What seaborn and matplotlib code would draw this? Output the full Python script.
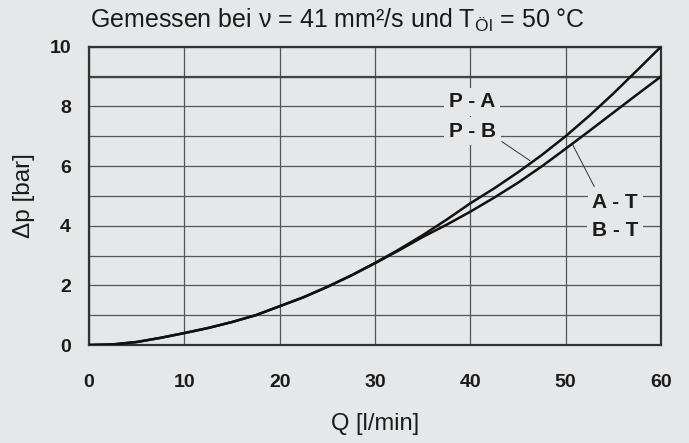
import matplotlib
matplotlib.use("Agg")
import matplotlib.pyplot as plt
from matplotlib import font_manager
import seaborn as sns
import pandas as pd

# ---- data ----
flow = [0, 2.5, 5, 7.5, 10, 12.5, 15, 17.5, 20, 22.5, 25, 27.5, 30,
        32.5, 35, 37.5, 40, 42.5, 45, 47.5, 50, 52.5, 55, 57.5, 60]
dp_upper = [0, 0.02, 0.1, 0.24, 0.4, 0.57, 0.77, 1.0, 1.3, 1.6, 1.95, 2.33, 2.75,
            3.2, 3.68, 4.2, 4.75, 5.25, 5.79, 6.37, 7.0, 7.69, 8.43, 9.21, 10.0]
dp_lower = [0, 0.02, 0.1, 0.24, 0.4, 0.57, 0.77, 1.0, 1.3, 1.6, 1.95, 2.33, 2.74,
            3.17, 3.62, 4.03, 4.47, 4.94, 5.44, 5.99, 6.58, 7.18, 7.79, 8.4, 9.0]
curve_names = ["P - A / P - B", "A - T / B - T"]

x_ticks = [0, 10, 20, 30, 40, 50, 60]
y_ticks = [0, 2, 4, 6, 8, 10]
y_minor = [1, 3, 5, 7, 9]

labels_upper = ["P - A", "P - B"]
labels_upper_pos = [(40.2, 8.15), (40.2, 7.17)]
labels_lower = ["A - T", "B - T"]
labels_lower_pos = [(55.2, 4.78), (55.2, 3.83)]
leader_upper = [(43.3, 6.82), (46.25, 6.18)]
leader_lower = [(53.0, 5.31), (50.74, 6.71)]

title_txt = "Gemessen bei ν = 41 mm²/s und T$_{\\mathrm{Öl}}$ = 50 °C"
xlabel_txt = "Q [l/min]"
ylabel_txt = "Δp [bar]"

# ---- style ----
BG = "#e6e7e8"
sns.set_theme(style="white")
names = {f.name for f in font_manager.fontManager.ttflist}
narrow = "Liberation Sans Narrow" if "Liberation Sans Narrow" in names else "Liberation Sans"
plt.rcParams["font.family"] = ["Liberation Sans", "DejaVu Sans"]
plt.rcParams["mathtext.fontset"] = "custom"
plt.rcParams["mathtext.rm"] = narrow
plt.rcParams["mathtext.it"] = narrow
plt.rcParams["mathtext.bf"] = narrow

df = pd.concat([
    pd.DataFrame({"Q": flow, "dp": dp_upper, "curve": curve_names[0]}),
    pd.DataFrame({"Q": flow, "dp": dp_lower, "curve": curve_names[1]}),
])

fig = plt.figure(figsize=(6.89, 4.43), dpi=100, facecolor=BG)
ax = fig.add_axes([89 / 689, 1 - 345 / 443, (661 - 89) / 689, (345 - 46.7) / 443])
ax.set_facecolor(BG)

sns.lineplot(data=df, x="Q", y="dp", hue="curve", palette=["#111111", "#111111"],
             linewidth=1.8, legend=False, ax=ax, zorder=4)

ax.set_xlim(0, 60)
ax.set_ylim(0, 10)
ax.set_xticks(x_ticks)
ax.set_yticks(y_ticks)
ax.set_yticks(y_minor, minor=True)
ax.grid(True, which="both", axis="both", color="#555555", linewidth=0.9)
ax.set_axisbelow(True)
ax.axhline(9, color="#444444", linewidth=1.6, zorder=1)
for s in ax.spines.values():
    s.set_color("#333333")
    s.set_linewidth(1.6)
ax.tick_params(which="both", length=0)
ax.tick_params(axis="y", pad=13)
ax.tick_params(axis="x", pad=21)
for lab in ax.get_xticklabels() + ax.get_yticklabels():
    lab.set_fontweight("bold")
    lab.set_fontsize(14)
    lab.set_color("#1a1a1a")

ax.set_xlabel(xlabel_txt, family=narrow, fontsize=17, color="#1a1a1a", labelpad=16)
ax.set_ylabel(ylabel_txt, family=narrow, fontsize=17.5, color="#1a1a1a", labelpad=10)

fig.text(90 / 689, 1 - 28 / 443, title_txt, family=narrow, fontsize=18,
         color="#1a1a1a", ha="left", va="baseline")

box = dict(facecolor=BG, edgecolor="none", pad=3.5)
for t, (x, y) in zip(labels_upper + labels_lower, labels_upper_pos + labels_lower_pos):
    ax.text(x, y, t, ha="center", va="center", fontsize=15, fontweight="bold",
            color="#1a1a1a", bbox=box, zorder=5)

ax.plot([p[0] for p in leader_upper], [p[1] for p in leader_upper],
        color="#333333", linewidth=0.7, zorder=3)
ax.plot([p[0] for p in leader_lower], [p[1] for p in leader_lower],
        color="#333333", linewidth=0.7, zorder=3)

fig.savefig("out.png", dpi=100, facecolor=BG)
